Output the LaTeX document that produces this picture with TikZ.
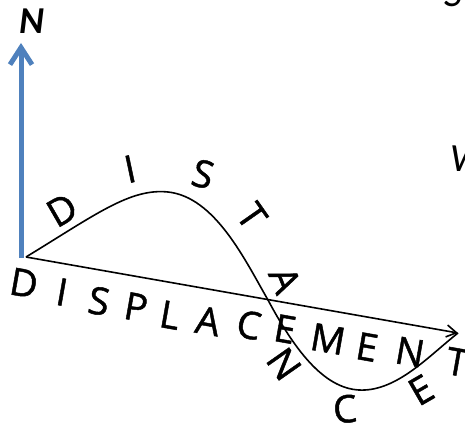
\documentclass[tikz,border=0pt]{standalone}
\usepackage{fontspec}
\setmainfont{Open Sans}
\newfontfamily\labelfont{Carlito}
\newfontfamily\wordfont[FakeBold=1.2]{Open Sans}
\usetikzlibrary{arrows.meta}
\definecolor{nblue}{RGB}{79,129,189}

\begin{document}
\begin{tikzpicture}[
  x=1pt, y=-1pt,
  letter/.style={inner sep=0pt, font=\wordfont\fontsize{38}{38}\selectfont},
  edge/.style={inner sep=0pt, font=\labelfont\itshape\fontsize{40}{40}\selectfont},
  northarr/.style={-{Straight Barb[length=17pt,width=22pt]}, line width=5pt, color=nblue},
  disparr/.style={-{Straight Barb[length=10pt,width=12pt]}, line width=1.6pt},
  pathline/.style={line width=1.6pt},
]
\useasboundingbox (0,0) rectangle (465,430);
\coordinate (O) at (26,257);
\coordinate (Nfoot) at (21,258);
\coordinate (Ntip) at (21,43);
\coordinate (end) at (458,333);
% north arrow
\draw[northarr] (Nfoot) -- (Ntip);
\node[font=\labelfont\bfseries\itshape\fontsize{38}{38}\selectfont, inner sep=0pt] (north) at (32,21) {N};
% cut off texts at the right edge
\node[edge, anchor=base west] (south) at (444,7) {S};
\node[edge, anchor=base west] (west) at (450,172) {W};
% distance and displacement
\draw[pathline] (O) .. controls (95,215) and (130,188) .. (168,192)
  .. controls (215,197) and (245,260) .. (268,300)
  .. controls (300,360) and (330,392) .. (365,390)
  .. controls (400,388) and (430,355) .. (end);
\draw[disparr] (O) -- (end);
% DISTANCE
\node[letter, rotate=30] (dD) at (62,210) {D};
\node[letter, rotate=12] (dI) at (130,169) {I};
\node[letter, rotate=-15] (dS) at (203,174) {S};
\node[letter, rotate=-55] (dT) at (252,216) {T};
\node[letter, rotate=-68] (dA) at (285,280) {A};
\node[letter, rotate=-55] (dN) at (284,364) {N};
\node[letter, rotate=5] (dC) at (345,409) {C};
\node[letter, rotate=30] (dE) at (421,390) {E};
% DISPLACEMENT
\node[letter, rotate=-10] (pD) at (24,283) {D};
\node[letter, rotate=-10] (pI) at (62,292) {I};
\node[letter, rotate=-10] (pS) at (99,301) {S};
\node[letter, rotate=-10] (pP) at (136,307) {P};
\node[letter, rotate=-10] (pL) at (170,315) {L};
\node[letter, rotate=-10] (pA) at (208,321) {A};
\node[letter, rotate=-10] (pC) at (249,325) {C};
\node[letter, rotate=-10] (pE) at (285,329) {E};
\node[letter, rotate=-10] (pM) at (328,339) {M};
\node[letter, rotate=-10] (pE2) at (367,347) {E};
\node[letter, rotate=-10] (pN) at (410,352) {N};
\node[letter, rotate=-10] (pT) at (457,362) {T};
\end{tikzpicture}
\end{document}
